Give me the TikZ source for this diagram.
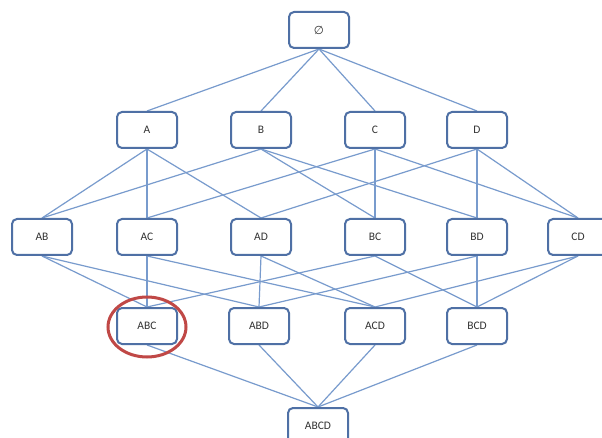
\documentclass[tikz,border=0pt]{standalone}
\usepackage{fontspec}
\setmainfont{Carlito}
\newfontfamily\symfont{DejaVu Sans}
\usetikzlibrary{backgrounds,shapes.geometric}
\begin{document}
\begin{tikzpicture}[x=1pt,y=-1pt,
  setbox/.style={draw=boxblue, line width=2pt, rounded corners=5pt, fill=white,
    minimum width=60pt, minimum height=36pt, inner sep=0pt, font=\fontsize{11.5}{12}\selectfont, text=black!80},
  link/.style={draw=linkblue, line width=1.2pt}]
\definecolor{boxblue}{RGB}{79,112,165}
\definecolor{linkblue}{RGB}{120,155,205}
\definecolor{ringred}{RGB}{192,72,70}
\useasboundingbox (0,0) rectangle (602,438);
% the subset lattice of {A,B,C,D}
\node[setbox] (e)    at (319,30)  {\symfont ∅};
\node[setbox] (A)    at (147,130) {A};
\node[setbox] (B)    at (261,130) {B};
\node[setbox] (C)    at (375,130) {C};
\node[setbox] (D)    at (477,130) {D};
\node[setbox] (AB)   at (42,237)  {AB};
\node[setbox] (AC)   at (147,237) {AC};
\node[setbox] (AD)   at (261,237) {AD};
\node[setbox] (BC)   at (375,237) {BC};
\node[setbox] (BD)   at (477,237) {BD};
\node[setbox] (CD)   at (578,237) {CD};
\node[setbox] (ABC)  at (147,326) {ABC};
\node[setbox] (ABD)  at (259,326) {ABD};
\node[setbox] (ACD)  at (375,326) {ACD};
\node[setbox] (BCD)  at (477,326) {BCD};
\node[setbox] (ABCD) at (318,426) {ABCD};
% covering relations, drawn behind the boxes
\begin{scope}[on background layer]
\fill[white] (0,0) rectangle (602,438);
\foreach \u/\l in {e/A,e/B,e/C,e/D,
  A/AB,A/AC,A/AD,B/AB,B/BC,B/BD,C/AC,C/BC,C/CD,D/AD,D/BD,D/CD,
  AB/ABC,AB/ABD,AC/ABC,AC/ACD,AD/ABD,AD/ACD,BC/ABC,BC/BCD,BD/ABD,BD/BCD,CD/ACD,CD/BCD,
  ABC/ABCD,ABD/ABCD,ACD/ABCD,BCD/ABCD}
  \draw[link] (\u.south) -- (\l.north);
\end{scope}
% highlight ring
\node[draw=ringred, line width=3pt, ellipse, minimum width=78pt, minimum height=60pt] (ring) at (147,327) {};
\end{tikzpicture}
\end{document}
